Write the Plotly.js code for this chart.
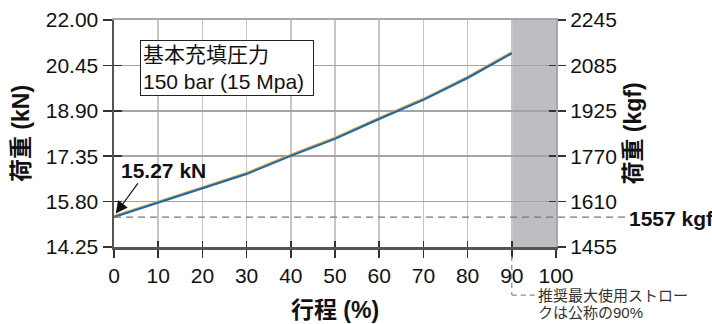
<!DOCTYPE html>
<html>
<head>
<meta charset="utf-8">
<script src="https://cdn.plot.ly/plotly-3.0.1.min.js"></script>
<style>html,body{margin:0;padding:0;background:#fff;}#chart{width:712px;height:324px;}</style>
</head>
<body>
<div id="chart"></div>
<script>
// ---- data ----
const strokePct = [0, 10, 20, 30, 40, 50, 60, 70, 80, 90];
const loadBlueKN = [15.27, 15.76, 16.26, 16.74, 17.36, 17.94, 18.62, 19.27, 20.02, 20.86];
const loadOrangeKN = [15.31, 15.80, 16.30, 16.78, 17.40, 17.98, 18.66, 19.31, 20.06, 20.90];
const xTickVals = [0, 10, 20, 30, 40, 50, 60, 70, 80, 90, 100];
const kNTickVals = [14.25, 15.80, 17.35, 18.90, 20.45, 22.00];
const kNTickText = ['14.25', '15.80', '17.35', '18.90', '20.45', '22.00'];
const kgfTickText = ['1455', '1610', '1770', '1925', '2085', '2245'];
const initialLoadKN = 15.27;
const initialLoadKgfLabel = '1557 kgf';
const initialLoadKNLabel = '15.27 kN';
const recommendedMaxStroke = 90;
const strokeMax = 100;
const boxText = '基本充填圧力<br>150 bar (15 Mpa)';
const noteLine1 = '推奨最大使用ストロー';
const noteLine2 = 'クは公称の90%';

const FONT = 'Liberation Sans, Arial, Noto Sans CJK JP, sans-serif';
const xRange = [0, 100];
const yRange = [14.25, 22.00];

// empty helper traces only register the extra (tick/border) axes
function axisHolder(xa, ya) {
  return {x: [], y: [], type: 'scatter', mode: 'lines', xaxis: xa, yaxis: ya,
          hoverinfo: 'skip', showlegend: false};
}

const traces = [
  axisHolder('x2', 'y'),
  axisHolder('x3', 'y'),
  axisHolder('x', 'y3'),
  axisHolder('x', 'y4'),
  {x: strokePct, y: loadOrangeKN, type: 'scatter', mode: 'lines', xaxis: 'x', yaxis: 'y',
   line: {color: '#f7941d', width: 2}, hoverinfo: 'skip', showlegend: false},
  {x: strokePct, y: loadBlueKN, type: 'scatter', mode: 'lines', xaxis: 'x', yaxis: 'y2',
   line: {color: '#0a6ebd', width: 2}, hoverinfo: 'skip', showlegend: false}
];

const tickFont = {family: FONT, size: 21, color: '#111'};

const layout = {
  width: 712, height: 324,
  margin: {l: 114, r: 156, t: 20, b: 77, pad: 0},
  paper_bgcolor: '#fff', plot_bgcolor: '#fff',
  font: {family: FONT, color: '#111'},
  showlegend: false,
  xaxis: {
    range: xRange, tickvals: xTickVals, ticktext: xTickVals.map(String),
    ticks: 'outside', ticklen: 8, tickwidth: 1.5, tickcolor: '#333',
    showline: true, linecolor: '#555', linewidth: 2.5,
    showgrid: true, gridcolor: '#c6c6c6', gridwidth: 1.5, zeroline: false,
    tickfont: tickFont,
    title: {text: '<b>行程 (%)</b>', font: {family: FONT, size: 23, color: '#111'}, standoff: 16}
  },
  xaxis2: {
    overlaying: 'x', anchor: 'y', side: 'bottom', range: xRange, tickvals: xTickVals,
    ticks: 'inside', ticklen: 6, tickwidth: 1.5, tickcolor: '#333',
    showticklabels: false, showgrid: false, zeroline: false, showline: false
  },
  xaxis3: {
    overlaying: 'x', anchor: 'y', side: 'top', range: xRange,
    ticks: '', showticklabels: false, showgrid: false, zeroline: false,
    showline: true, linecolor: '#a8a8a8', linewidth: 2
  },
  yaxis: {
    range: yRange, tickvals: kNTickVals, ticktext: kNTickText,
    ticks: 'outside', ticklen: 9, tickwidth: 1.5, tickcolor: '#333',
    showline: true, linecolor: '#555', linewidth: 2.5,
    showgrid: true, gridcolor: '#a4a4a4', gridwidth: 1.5, zeroline: false,
    tickfont: tickFont,
    title: {text: '<b>荷重 (kN)</b>', font: {family: FONT, size: 23, color: '#111'}, standoff: 10}
  },
  yaxis3: {
    overlaying: 'y', anchor: 'x', side: 'left', range: yRange, tickvals: kNTickVals,
    ticks: 'inside', ticklen: 8, tickwidth: 1.5, tickcolor: '#333',
    showticklabels: false, showgrid: false, zeroline: false, showline: false
  },
  yaxis2: {
    overlaying: 'y', anchor: 'x', side: 'right', range: yRange,
    tickvals: kNTickVals, ticktext: kgfTickText,
    ticks: 'outside', ticklen: 8, tickwidth: 1.5, tickcolor: '#333',
    showline: true, linecolor: '#a8a8a8', linewidth: 2,
    showgrid: false, zeroline: false, tickfont: tickFont,
    title: {text: '<b>荷重 (kgf)</b>', font: {family: FONT, size: 23, color: '#111'}, standoff: 9}
  },
  yaxis4: {
    overlaying: 'y', anchor: 'x', side: 'right', range: yRange, tickvals: kNTickVals,
    ticks: 'inside', ticklen: 7, tickwidth: 1.5, tickcolor: '#333',
    showticklabels: false, showgrid: false, zeroline: false, showline: false
  },
  shapes: [
    {type: 'rect', xref: 'x', yref: 'paper', x0: recommendedMaxStroke, x1: strokeMax, y0: 0, y1: 1,
     fillcolor: '#bdbec1', line: {width: 0}, layer: 'between'},
    {type: 'line', xref: 'paper', yref: 'y', x0: 0, x1: 1.158, y0: initialLoadKN, y1: initialLoadKN,
     line: {color: '#777', width: 1.3, dash: '7px,5px'}},
    {type: 'line', xref: 'paper', yref: 'paper', x0: recommendedMaxStroke / strokeMax, x1: recommendedMaxStroke / strokeMax,
     y0: -0.04, y1: -0.212, line: {color: '#888', width: 1.2, dash: '5px,4px'}},
    {type: 'line', xref: 'paper', yref: 'paper', x0: recommendedMaxStroke / strokeMax, x1: 0.953,
     y0: -0.212, y1: -0.212, line: {color: '#888', width: 1.2, dash: '5px,4px'}}
  ],
  annotations: [
    {xref: 'paper', yref: 'paper', x: 0.0588, y: 0.914, xanchor: 'left', yanchor: 'top',
     text: boxText, align: 'left', showarrow: false, width: 168,
     font: {family: FONT, size: 21, color: '#111'},
     bgcolor: '#fff', bordercolor: '#222', borderwidth: 1, borderpad: 2},
    {xref: 'paper', yref: 'paper', x: 0.011, y: 0.337, xanchor: 'left', yanchor: 'middle',
     text: '<b>' + initialLoadKNLabel + '</b>', showarrow: false,
     font: {family: FONT, size: 21, color: '#111'}},
    {xref: 'x', yref: 'y', x: strokePct[0], y: loadOrangeKN[0], text: '', showarrow: true,
     ax: 25, ay: -34, arrowhead: 2, arrowsize: 2, arrowwidth: 1.2, arrowcolor: '#111', standoff: 3},
    {xref: 'paper', yref: 'y', x: 1.16, y: initialLoadKN, xanchor: 'left', yanchor: 'middle', yshift: -1,
     text: '<b>' + initialLoadKgfLabel + '</b>', showarrow: false,
     font: {family: FONT, size: 21, color: '#111'}},
    {xref: 'paper', yref: 'paper', x: 0.954, y: -0.212, xanchor: 'left', yanchor: 'middle',
     text: noteLine1, showarrow: false,
     font: {family: FONT, size: 15, color: '#333'}},
    {xref: 'paper', yref: 'paper', x: 0.954, y: -0.29, xanchor: 'left', yanchor: 'middle',
     text: noteLine2, showarrow: false,
     font: {family: FONT, size: 15, color: '#333'}}
  ]
};

Plotly.newPlot('chart', traces, layout, {staticPlot: true, displayModeBar: false});
</script>
</body>
</html>
